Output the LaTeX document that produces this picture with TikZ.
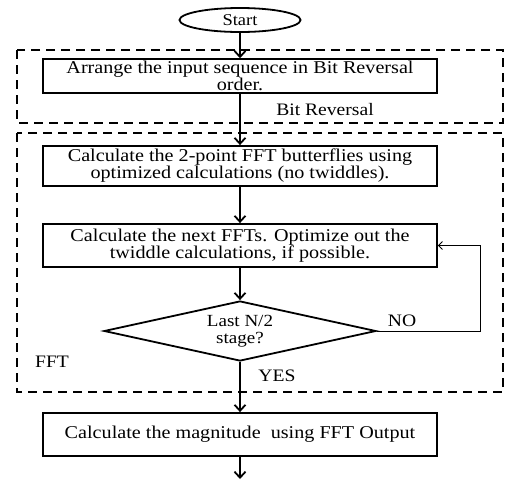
\documentclass[tikz,border=0pt]{standalone}
\usepackage{fontspec}
\setmainfont[FakeStretch=1.12]{Liberation Serif}
\usepackage{tikz}
\usetikzlibrary{arrows.meta,shapes.geometric}

\begin{document}
\begin{tikzpicture}[x=1pt,y=-1pt,
    box/.style={draw,line width=1.8pt,minimum width=394pt,align=center,
      font=\fontsize{18}{17}\selectfont,inner sep=2pt},
    grp/.style={draw,line width=1.8pt,dash pattern=on 9pt off 6pt},
    flow/.style={line width=1.8pt,-{Straight Barb[length=6pt,width=11pt,line width=1.8pt]}},
    lbl/.style={font=\fontsize{17.5}{17}\selectfont}]
  \useasboundingbox (0,0) rectangle (508,480);
  % groups
  \draw[grp] (17,50) rectangle (503,123);
  \draw[grp] (17,133) rectangle (503,392);
  \node[lbl] (brlbl) at (325,110) {Bit Reversal};
  \node[lbl] (fftlbl) at (52,362) {FFT};
  % steps
  \node[draw,ellipse,line width=1.8pt,minimum width=121pt,minimum height=24pt,
    inner sep=0pt,font=\fontsize{16.5}{16}\selectfont] (start) at (240,20) {Start};
  \node[box,minimum height=32pt] (bitrev) at (240,76)
    {Arrange the input sequence in Bit Reversal\\order.};
  \node[box,minimum height=40pt] (twopt) at (240,166)
    {Calculate the 2-point FFT butterflies using\\optimized calculations (no twiddles).};
  \node[box,minimum height=43pt] (next) at (240,245.5)
    {Calculate the next FFTs. Optimize out the\\twiddle calculations, if possible.};
  \node[draw,diamond,line width=1.8pt,aspect=4.5,minimum width=272pt,
    minimum height=60pt,inner sep=0pt,align=center,
    font=\fontsize{17}{17}\selectfont] (last) at (240,331) {Last N/2\\stage?};
  \node[box,minimum height=43pt] (mag) at (240,434.5)
    {Calculate the magnitude~ using FFT Output};
  \coordinate (loop) at (480,331);
  \coordinate (out) at (240,479);
  % connectors
  \draw[flow] (start) -- (bitrev);
  \draw[flow] (bitrev) -- (twopt);
  \draw[flow] (twopt) -- (next);
  \draw[flow] (next) -- (last);
  \draw[flow] (last) -- (mag);
  \draw[flow] (mag) -- (out);
  \draw[line width=0.8pt,-{Straight Barb[length=4pt,width=8pt]}]
    (last.east) -- (loop) |- (next.east);
  \node[lbl] (no) at (402,321) {NO};
  \node[lbl] (yes) at (277,376) {YES};
\end{tikzpicture}
\end{document}
